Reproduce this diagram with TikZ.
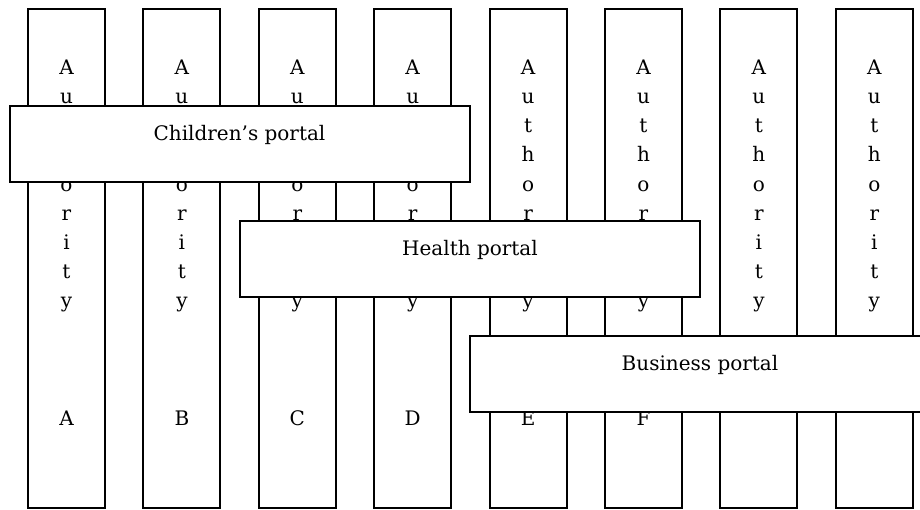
\documentclass[tikz,border=0pt]{standalone}
\usepackage{fontspec}
\setmainfont{DejaVu Serif}
\usetikzlibrary{positioning}
\tikzset{
  authority/.style={draw, line width=1pt, minimum width=38.5pt, minimum height=249.5pt, inner sep=0pt},
  stack/.style={anchor=north, inner sep=0pt, align=center, font=\fontsize{10}{14.6}\selectfont},
  letter/.style={anchor=base, inner sep=0pt, font=\fontsize{10}{12}\selectfont},
  portal/.style={draw, line width=1pt, fill=white, minimum width=230pt, minimum height=38pt,
    inner sep=0pt, text height=17pt, text depth=21pt, font=\fontsize{10}{12}\selectfont}
}
\begin{document}
\begin{tikzpicture}[x=0.5pt, y=-0.5pt]
\clip (0,0) rectangle (920,509);

% Columnas de autoridades
\node[authority] (colA) at (66.5,258.5) {};
\node[authority, right=18.2pt of colA] (colB) {};
\node[authority, right=18.2pt of colB] (colC) {};
\node[authority, right=18.2pt of colC] (colD) {};
\node[authority, right=18.2pt of colD] (colE) {};
\node[authority, right=18.2pt of colE] (colF) {};
\node[authority, right=18.2pt of colF] (colG) {};
\node[authority, right=18.2pt of colG] (colH) {};

% Texto vertical
\node[stack, below=25.7pt of colA.north] {A\\u\\t\\h\\o\\r\\i\\t\\y};
\node[stack, below=25.7pt of colB.north] {A\\u\\t\\h\\o\\r\\i\\t\\y};
\node[stack, below=25.7pt of colC.north] {A\\u\\t\\h\\o\\r\\i\\t\\y};
\node[stack, below=25.7pt of colD.north] {A\\u\\t\\h\\o\\r\\i\\t\\y};
\node[stack, below=25.7pt of colE.north] {A\\u\\t\\h\\o\\r\\i\\t\\y};
\node[stack, below=25.7pt of colF.north] {A\\u\\t\\h\\o\\r\\i\\t\\y};
\node[stack, below=25.7pt of colG.north] {A\\u\\t\\h\\o\\r\\i\\t\\y};
\node[stack, below=25.7pt of colH.north] {A\\u\\t\\h\\o\\r\\i\\t\\y};

% Letras de abajo
\node[letter] at ([yshift=-83.25pt]colA.center) {A};
\node[letter] at ([yshift=-83.25pt]colB.center) {B};
\node[letter] at ([yshift=-83.25pt]colC.center) {C};
\node[letter] at ([yshift=-83.25pt]colD.center) {D};
\node[letter] at ([yshift=-83.25pt]colE.center) {E};
\node[letter] at ([yshift=-83.25pt]colF.center) {F};

% Portales encima
\node[portal] (children) at (239.5,144) {Children’s portal};
\node[portal] (health) at (470,259) {Health portal};
\node[portal] (business) at (700,374) {Business portal};
\end{tikzpicture}
\end{document}
